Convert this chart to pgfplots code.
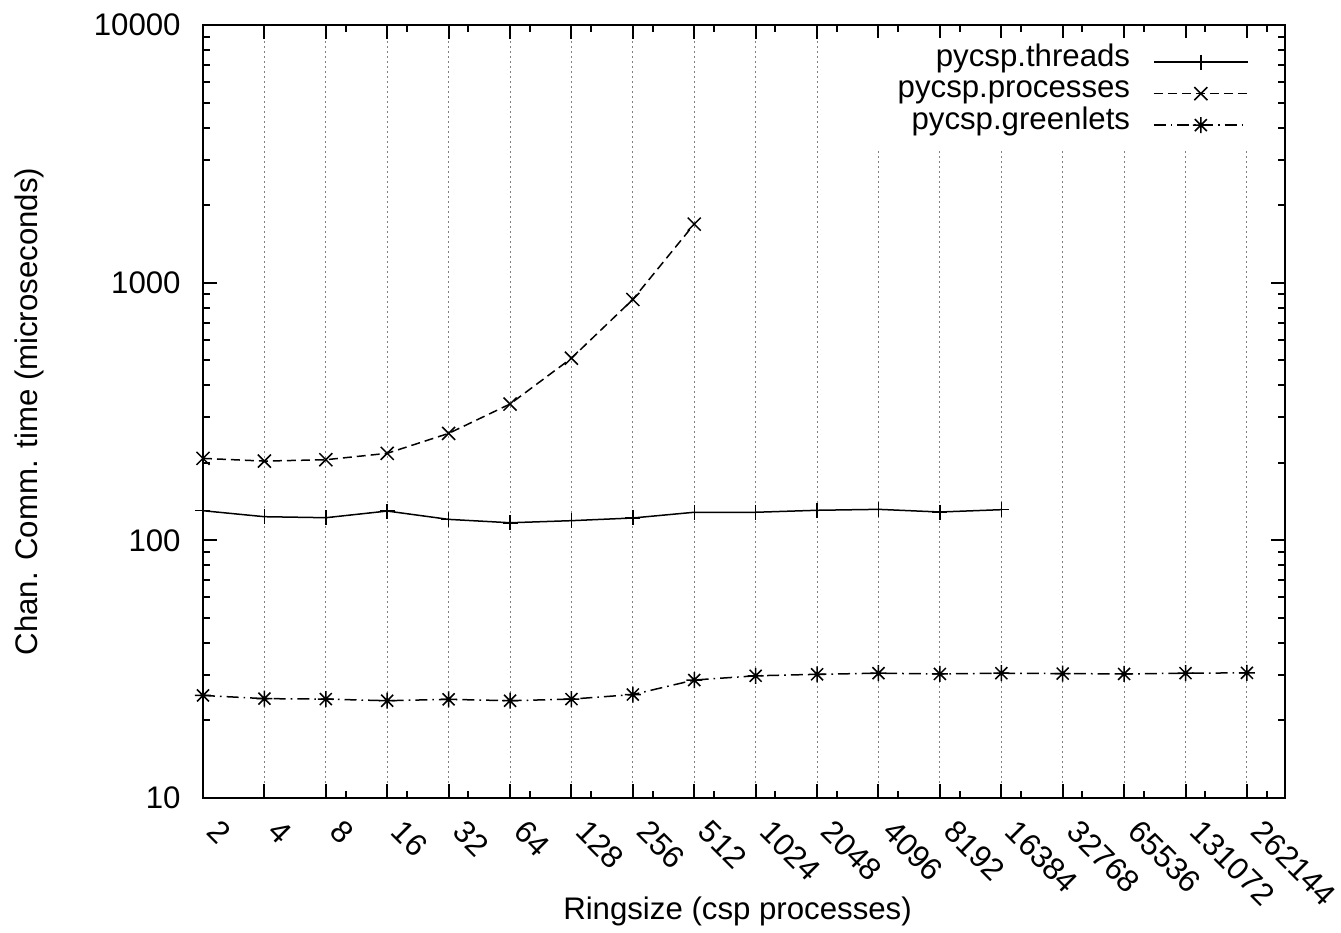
\documentclass[border=0pt]{standalone}
\usepackage{fontspec}
\setmainfont{Liberation Sans}
\usepackage{pgfplots}
\pgfplotsset{compat=1.18}

% gnuplot style star: plus and cross together
\pgfdeclareplotmark{gpstar}{%
  \pgfpathmoveto{\pgfqpoint{-\pgfplotmarksize}{0pt}}%
  \pgfpathlineto{\pgfqpoint{\pgfplotmarksize}{0pt}}%
  \pgfpathmoveto{\pgfqpoint{0pt}{-\pgfplotmarksize}}%
  \pgfpathlineto{\pgfqpoint{0pt}{\pgfplotmarksize}}%
  \pgfpathmoveto{\pgfqpoint{-.75\pgfplotmarksize}{-.75\pgfplotmarksize}}%
  \pgfpathlineto{\pgfqpoint{.75\pgfplotmarksize}{.75\pgfplotmarksize}}%
  \pgfpathmoveto{\pgfqpoint{-.75\pgfplotmarksize}{.75\pgfplotmarksize}}%
  \pgfpathlineto{\pgfqpoint{.75\pgfplotmarksize}{-.75\pgfplotmarksize}}%
  \pgfusepathqstroke}

\begin{document}
\begin{tikzpicture}[font=\fontsize{15.6}{18}\selectfont]
\begin{axis}[
    scale only axis,
    width=541pt,
    height=386.5pt,
    ymode=log,
    xmin=0, xmax=17.62,
    ymin=10, ymax=10000,
    xtick={0,...,17},
    xticklabels={2,4,8,16,32,64,128,256,512,1024,2048,4096,8192,16384,32768,65536,131072,262144},
    minor xtick={2.322,3.322,...,17.322},
    ytick={10,100,1000,10000},
    yticklabels={10,100,1000,10000},
    minor ytick={20,30,40,50,60,70,80,90,200,300,400,500,600,700,800,900,2000,3000,4000,5000,6000,7000,8000,9000},
    % shifts are in the rotated frame: about (5pt,-14pt) on the page
    xticklabel style={rotate=-45, anchor=west, inner sep=0pt, xshift=13.4pt, yshift=-6.4pt},
    yticklabel style={anchor=east, inner sep=0pt, xshift=-11pt},
    major tick length=7pt,
    minor tick length=3.5pt,
    tick style={line width=1pt, black},
    axis line style={line width=1pt},
    xmajorgrids=true,
    major x grid style={gray, line width=0.5pt, dash pattern=on 1pt off 1.5pt},
    xlabel={Ringsize (csp processes)},
    ylabel={Chan. Comm. time (microseconds)},
    xlabel style={at={(axis description cs:0.494,0)}, anchor=center, yshift=-56.5pt},
    ylabel style={at={(axis description cs:-0.16,0.5)}, anchor=center},
    legend plot pos=right,
    legend cell align=right,
    legend style={at={(1,1)}, anchor=north east, xshift=-7pt, yshift=-6.5pt,
        draw=none, fill=white, inner xsep=11pt, inner ysep=4pt,
        column sep=11.5pt,
        nodes={inner sep=0pt, text height=10pt, text depth=5.75pt}},
    legend image code/.code={\draw[mark repeat=2, mark phase=2] plot coordinates {(0pt,0pt) (23.5pt,0pt) (47pt,0pt)};},
    every axis plot/.append style={black, line width=0.75pt},
]

% threads
\addplot[solid, mark=+, mark size=3.75pt] coordinates {
    (0, 130.3) (1, 123.5) (2, 122.4) (3, 129.9) (4, 120.6) (5, 117.0) (6, 119.2)
    (7, 122.1) (8, 128.5) (9, 128.5) (10, 130.8) (11, 131.9) (12, 128.8) (13, 131.5)
};
\addlegendentry{pycsp.threads}

% processes
\addplot[dash pattern=on 4.5pt off 2.5pt, mark=x, mark size=4.6pt, mark options={solid}] coordinates {
    (0, 208) (1, 203) (2, 205.5) (3, 217.6) (4, 260) (5, 338) (6, 509) (7, 861) (8, 1688)
};
\addlegendentry{pycsp.processes}

% greenlets
\addplot[dash pattern=on 6pt off 2.5pt on 0.8pt off 2.5pt, mark=gpstar, mark size=4pt, mark options={solid}] coordinates {
    (0, 25.0) (1, 24.3) (2, 24.2) (3, 23.85) (4, 24.15) (5, 23.85) (6, 24.2) (7, 25.2)
    (8, 28.7) (9, 29.8) (10, 30.2) (11, 30.5) (12, 30.3) (13, 30.5) (14, 30.4)
    (15, 30.3) (16, 30.5) (17, 30.6)
};
\addlegendentry{pycsp.greenlets}

\end{axis}
\path (-101.5pt,-66.5pt) (569pt,399pt);
\end{tikzpicture}
\end{document}
